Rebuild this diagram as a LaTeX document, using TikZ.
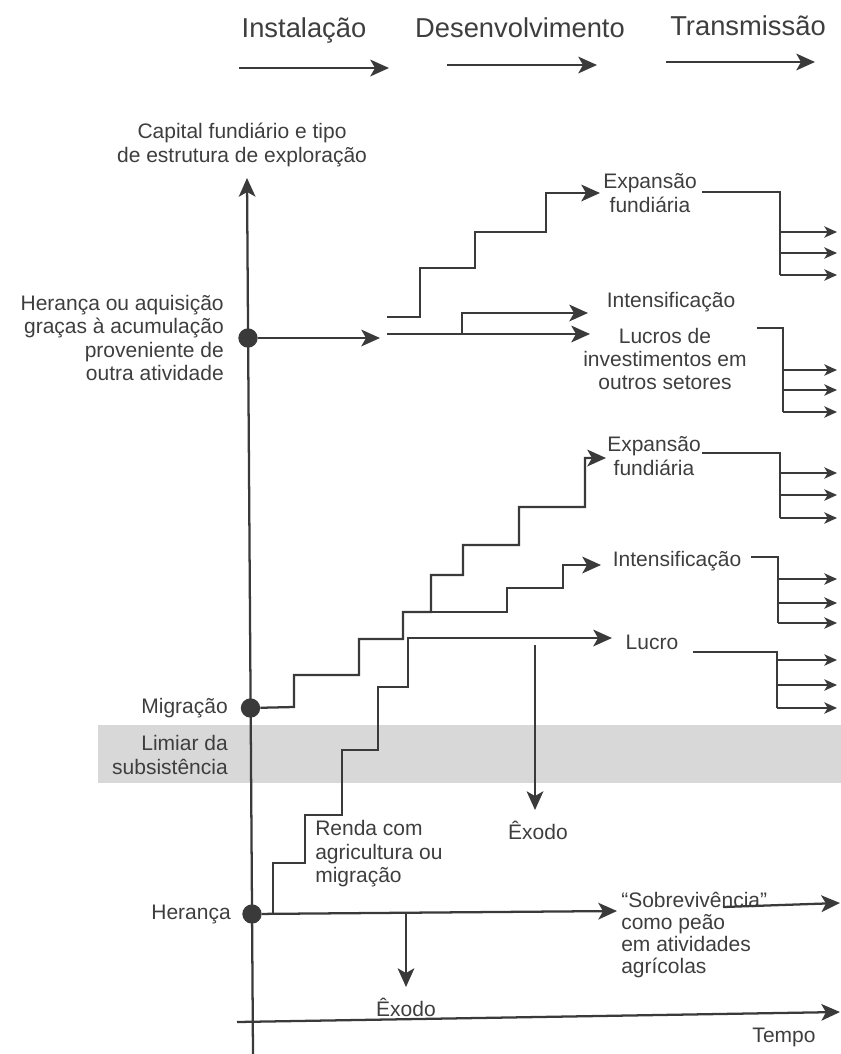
\documentclass[tikz,border=0pt]{standalone}
\usepackage{fontspec}
\setmainfont{Liberation Sans}
\usetikzlibrary{arrows.meta}
\definecolor{ink}{RGB}{58,58,58}
\definecolor{txt}{RGB}{62,62,62}
\definecolor{band}{RGB}{216,216,216}

\begin{document}
\begin{tikzpicture}[x=0.75pt,y=0.75pt,yscale=-1,xscale=1,
  line/.style={draw=ink,line width=1.7pt},
  thinline/.style={draw=ink,line width=1.2pt},
  bigarr/.style={line,-{Stealth[length=14pt,width=12.5pt,inset=3.5pt]}},
  smallarr/.style={thinline,-{Stealth[length=9.5pt,width=8.5pt,inset=2.5pt]}},
  lbl/.style={text=txt,font=\fontsize{15.75}{17.6}\selectfont,inner sep=0pt,align=center},
  head/.style={text=txt,font=\fontsize{20.5}{23}\selectfont,inner sep=0pt},
  dot/.style={circle,fill=ink,inner sep=0pt,minimum size=14.5pt}]
\useasboundingbox (0,0) rectangle (841,1054);

%Shape: Rectangle (limiar)
\fill[band] (98,725) rectangle (841,783);

% Header
\node[head] (inst) at (304,30) {Instalação};
\node[head] (desenv) at (520,28) {Desenvolvimento};
\node[head] (transm) at (748,26) {Transmissão};
\coordinate (h1a) at (239,68); \coordinate (h1b) at (389,68);
\coordinate (h2a) at (447,65); \coordinate (h2b) at (597,65);
\coordinate (h3a) at (666,62); \coordinate (h3b) at (815,62);
\draw[bigarr] (h1a) -- (h1b);
\draw[bigarr] (h2a) -- (h2b);
\draw[bigarr] (h3a) -- (h3b);

%Axes
\coordinate (ybot) at (253,1054);
\coordinate (ytop) at (247,178);
\draw[bigarr] (ybot) -- (ytop);
\node[lbl] (capital) at (242,145) {Capital fundiário e tipo\\de estrutura de exploração};
\coordinate (t0) at (237,1022);
\coordinate (t1) at (840,1012);
\draw[bigarr] (t0) -- (t1);
\node[lbl] (tempo) at (784,1037) {Tempo};

% Dots and left labels
\node[dot] (dotA) at (248,338) {};
\node[dot] (dotM) at (250.5,708) {};
\node[dot] (dotH) at (252,914) {};
\node[lbl,anchor=east,align=right] (heranca1) at (224,338) {Herança ou aquisição\\graças à acumulação\\proveniente de\\outra atividade};
\node[lbl,anchor=east] (migr) at (228,708) {Migração};
\node[lbl,anchor=east,align=right] (limiar) at (228,755) {Limiar da\\subsistência};
\node[lbl,anchor=east] (heranca2) at (231,914) {Herança};

%Upper block
\draw[bigarr] (dotA) -- (380,338);
\draw[bigarr] (387,317) -| (420,268) -| (475,232) -| (546,193) -- (600,193);
\draw[bigarr] (387,334) -- (590,334);
\draw[bigarr] (462,334) |- (588,313);
\node[lbl] (exp1) at (650,193) {Expansão\\fundiária};
\node[lbl] (int1) at (671,302) {Intensificação};
\node[lbl] (lucros) at (665,359) {Lucros de\\investimentos em\\outros setores};
\draw[thinline] (702,192) -| (780,275);
\draw[smallarr] (780,232) -- (837,232);
\draw[smallarr] (780,253) -- (837,253);
\draw[smallarr] (780,275) -- (837,275);
\draw[thinline] (757,328) -| (783,412);
\draw[smallarr] (783,370) -- (837,370);
\draw[smallarr] (783,390) -- (837,390);
\draw[smallarr] (783,412) -- (837,412);

%Middle block
\draw[bigarr] (dotM) -- (294,707) |- (359,675) |- (403,639) |- (431,612) |- (463,575) |- (519,545) |- (585,507) |- (606,458);
\draw[bigarr] (403,612) -- (507,612) |- (563,588) |- (601,565);
\draw[bigarr] (273,913) |- (305,863) |- (342,815) |- (378,750) |- (408,687) |- (612,638);
\draw[bigarr] (535,645) -- (535,810);
\node[lbl] (exodo1) at (538,830) {Êxodo};
\node[lbl] (exp2) at (654,456) {Expansão\\fundiária};
\node[lbl] (int2) at (677,561) {Intensificação};
\node[lbl] (lucro) at (652,642) {Lucro};
\draw[thinline] (702,453) -| (780,518);
\draw[smallarr] (780,473) -- (837,473);
\draw[smallarr] (780,495) -- (837,495);
\draw[smallarr] (780,518) -- (837,518);
\draw[thinline] (751,557) -| (778,623);
\draw[smallarr] (778,579) -- (837,579);
\draw[smallarr] (778,603) -- (837,603);
\draw[smallarr] (778,623) -- (837,623);
\draw[thinline] (693,652) -| (777,708);
\draw[smallarr] (777,660) -- (837,660);
\draw[smallarr] (777,685) -- (837,685);
\draw[smallarr] (777,708) -- (837,708);

%Lower block
\node[lbl,anchor=west,align=left] (renda) at (315,854) {Renda com\\agricultura ou\\migração};
\draw[bigarr] (dotH) -- (617,911);
\draw[bigarr] (406,913) -- (406,987);
\node[lbl] (exodo2) at (406,1007) {Êxodo};
\node[lbl,anchor=west,align=left,font=\fontsize{15.75}{16.5}\selectfont] (sobrev) at (621,935) {“Sobrevivência”\\como peão\\em atividades\\agrícolas};
\draw[bigarr] (723,907) -- (840,903);

\end{tikzpicture}
\end{document}
